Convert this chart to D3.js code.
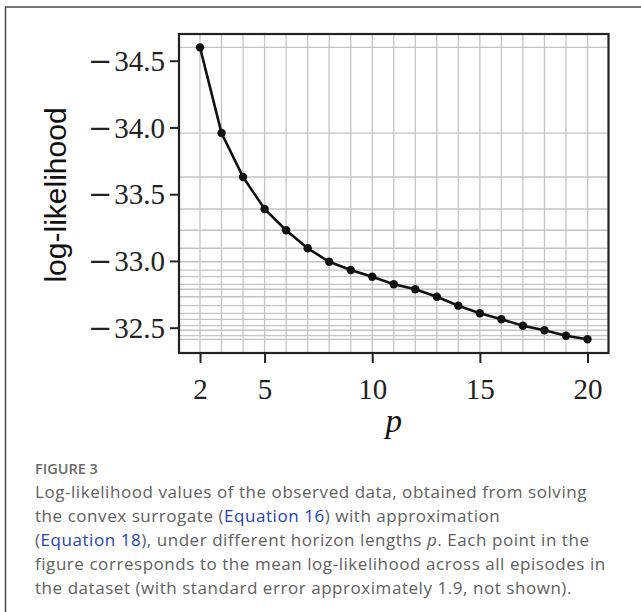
<!DOCTYPE html>
<html>
<head>
<meta charset="utf-8">
<script src="https://cdn.jsdelivr.net/npm/d3@7"></script>
<style>
  html, body { margin: 0; padding: 0; background: #fff; }
  svg { display: block; }
</style>
</head>
<body>
<div id="plot"></div>
<script>
// Horizon lengths p and mean log-likelihood per p
const horizons = [2, 3, 4, 5, 6, 7, 8, 9, 10, 11, 12, 13, 14, 15, 16, 17, 18, 19, 20];
const logLik = [-34.60, -33.958, -33.629, -33.389, -33.230, -33.095, -32.994, -32.932, -32.882,
  -32.825, -32.788, -32.732, -32.665, -32.608, -32.563, -32.515, -32.481, -32.440, -32.413];
const xTicks = [2, 5, 10, 15, 20];
const yTicks = [-34.5, -34.0, -33.5, -33.0, -32.5];

const data = horizons.map((p, i) => ({p: p, v: logLik[i]}));

const W = 641, H = 612;
const svg = d3.select("#plot")
  .append("svg")
  .attr("width", W)
  .attr("height", H);

svg.append("rect").attr("width", W).attr("height", H).attr("fill", "#fff");

// card frame (open to the right and bottom)
svg.append("path")
  .attr("d", `M5.5,${H} V7 H${W}`)
  .attr("fill", "none")
  .attr("stroke", "#4a4a4a")
  .attr("stroke-width", 1.5);

// plot box
const box = {left: 179, right: 608.5, top: 34, bottom: 353};

// scales (y runs from more negative at top to less negative at bottom)
const x = d3.scaleLinear().domain([2, 20]).range([200, 587.5]);
const y = d3.scaleLinear().domain([-34.5, -32.5]).range([60.7, 327.7]);

// grid: verticals at every p, horizontals at every data value
const grid = svg.append("g").attr("stroke", "#c4c4c4").attr("stroke-width", 1.3);
grid.selectAll("line.v")
  .data(horizons)
  .enter().append("line")
  .attr("x1", d => x(d)).attr("x2", d => x(d))
  .attr("y1", box.top).attr("y2", box.bottom);
grid.selectAll("line.h")
  .data(logLik)
  .enter().append("line")
  .attr("y1", d => y(d)).attr("y2", d => y(d))
  .attr("x1", box.left).attr("x2", box.right);

// axes
const xAxis = svg.append("g")
  .attr("transform", `translate(0,${box.bottom})`)
  .call(d3.axisBottom(x).tickValues(xTicks).tickSize(10).tickPadding(8).tickFormat(d3.format("d")));
const yAxis = svg.append("g")
  .attr("transform", `translate(${box.left},0)`)
  .call(d3.axisLeft(y).tickValues(yTicks).tickSize(9).tickPadding(5).tickFormat(d3.format(".1f")));

[xAxis, yAxis].forEach(g => {
  g.select(".domain").remove();
  g.selectAll(".tick line").attr("stroke", "#222").attr("stroke-width", 2);
  g.selectAll(".tick text")
    .attr("fill", "#222")
    .style("font-family", "'Liberation Serif', serif")
    .style("font-size", "29px");
});
xAxis.selectAll(".tick text").attr("dy", "0.95em");
yAxis.selectAll(".tick text").attr("dy", "0.33em");

// wider TeX-like minus sign on the y labels
yAxis.selectAll(".tick text").each(function(d) {
  const t = d3.select(this);
  t.text(null);
  t.append("tspan")
    .style("font-family", "'DejaVu Serif', serif")
    .style("font-weight", 300)
    .text("\u2212");
  t.append("tspan").attr("dx", 2).text(d3.format(".1f")(Math.abs(d)));
});

// spines
svg.append("rect")
  .attr("x", box.left).attr("y", box.top)
  .attr("width", box.right - box.left).attr("height", box.bottom - box.top)
  .attr("fill", "none")
  .attr("stroke", "#222")
  .attr("stroke-width", 2.2);

// line + markers
const line = d3.line().x(d => x(d.p)).y(d => y(d.v));
svg.append("path")
  .datum(data)
  .attr("d", line)
  .attr("fill", "none")
  .attr("stroke", "#111")
  .attr("stroke-width", 2.6);
svg.selectAll("circle.pt")
  .data(data)
  .enter().append("circle")
  .attr("cx", d => x(d.p))
  .attr("cy", d => y(d.v))
  .attr("r", 4.2)
  .attr("fill", "#111");

// axis labels
svg.append("text")
  .attr("transform", `translate(66,195) rotate(-90)`)
  .attr("text-anchor", "middle")
  .style("font-family", "'Liberation Sans', Arial, sans-serif")
  .style("font-size", "30px")
  .attr("fill", "#111")
  .text("log-likelihood");

svg.append("text")
  .attr("x", (box.left + box.right) / 2)
  .attr("y", 432)
  .attr("text-anchor", "middle")
  .style("font-family", "'Liberation Serif', serif")
  .style("font-style", "italic")
  .style("font-size", "33px")
  .attr("fill", "#111")
  .text("p");

// caption
svg.append("text")
  .attr("x", 35).attr("y", 474)
  .style("font-family", "'Open Sans', sans-serif")
  .style("font-size", "14.5px")
  .style("font-weight", 600)
  .attr("fill", "#6a6a6a")
  .text("FIGURE 3");

const captionLines = [
  [["Log-likelihood values of the observed data, obtained from solving", ""]],
  [["the convex surrogate (", ""], ["Equation 16", "link"], [") with approximation", ""]],
  [["(", ""], ["Equation 18", "link"], ["), under different horizon lengths ", ""], ["p", "it"], [". Each point in the", ""]],
  [["figure corresponds to the mean log-likelihood across all episodes in", ""]],
  [["the dataset (with standard error approximately 1.9, not shown).", ""]]
];
const cap = svg.append("g")
  .style("font-family", "'Open Sans', sans-serif")
  .style("font-size", "17px")
  .style("letter-spacing", "0.55px")
  .attr("fill", "#606060");
captionLines.forEach((parts, i) => {
  const t = cap.append("text").attr("x", 35).attr("y", 498.3 + i * 23.8);
  parts.forEach(([s, kind]) => {
    const ts = t.append("tspan").text(s);
    if (kind === "link") ts.attr("fill", "#1f3fb8");
    if (kind === "it") ts.style("font-style", "italic");
  });
});
</script>
</body>
</html>
